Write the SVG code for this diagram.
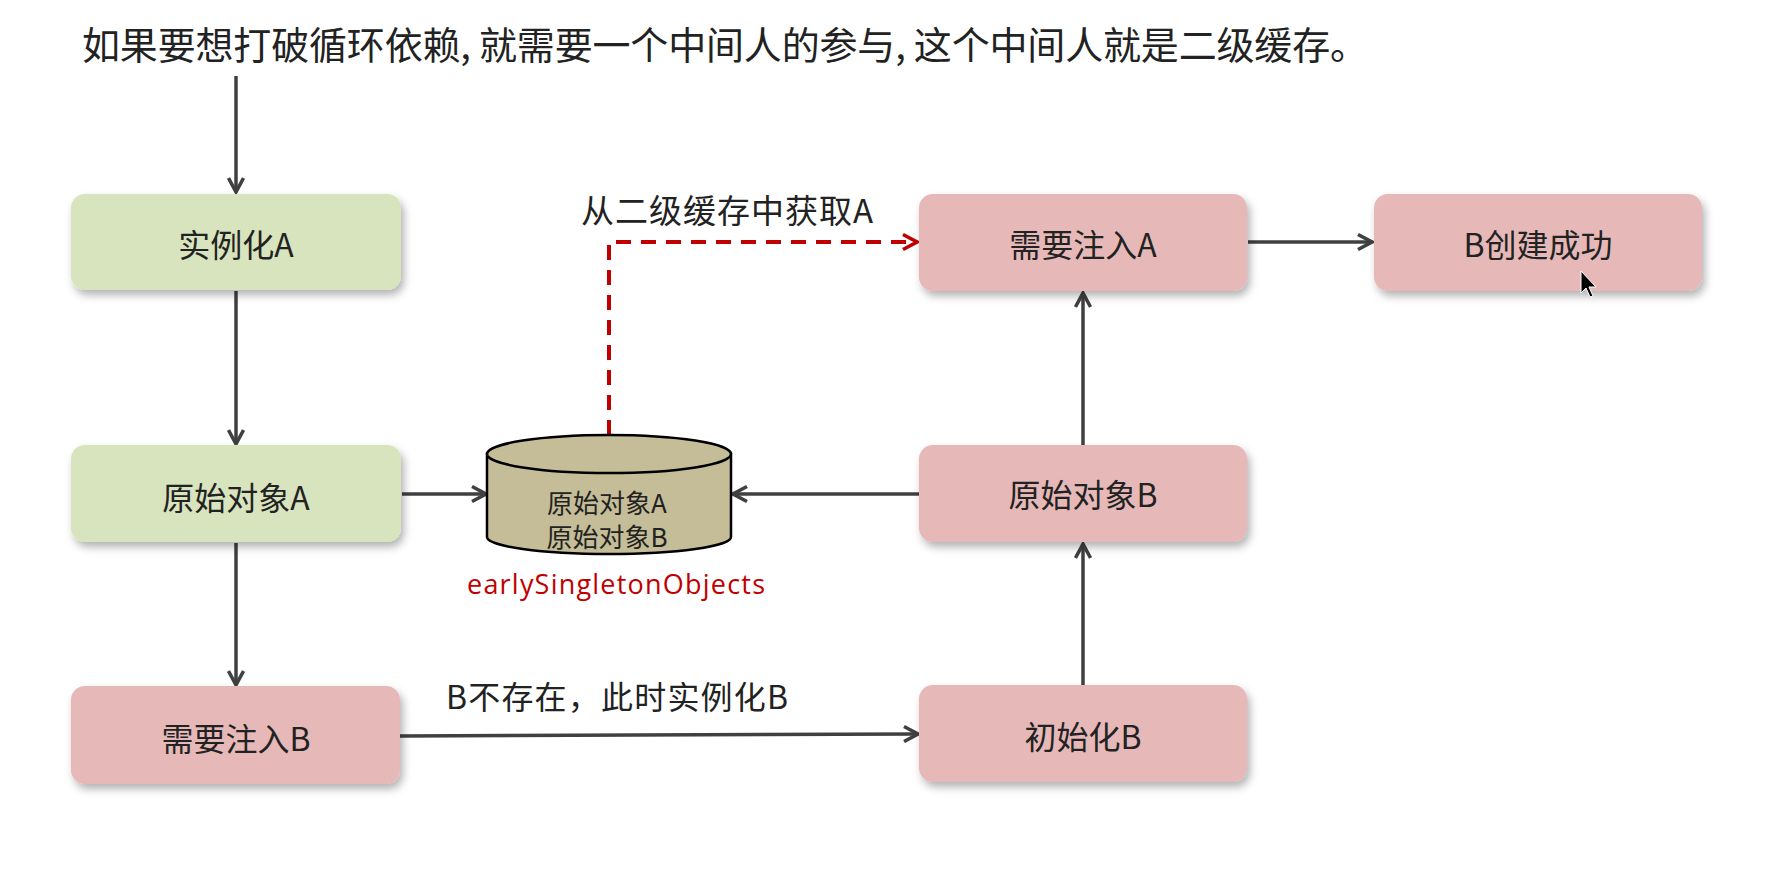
<svg xmlns="http://www.w3.org/2000/svg" width="1788" height="894" viewBox="0 0 1788 894">
<style>
.t{font-family:"Noto Sans CJK SC","Liberation Sans",sans-serif;fill:#222;text-anchor:middle;dominant-baseline:central}
.n{font-size:32px}
.g{fill:#d7e4bd}
.p{fill:#e6b9b8}
.c{stroke:#404040;stroke-width:3.5;fill:none}
.d{stroke:#c00000;stroke-width:4;fill:none;stroke-dasharray:15 10}
</style>
<defs>
<filter id="sh" x="-10%" y="-20%" width="125%" height="150%">
<feDropShadow dx="3" dy="5" stdDeviation="4" flood-color="#000" flood-opacity="0.3"/>
</filter>
<marker id="ar" viewBox="0 0 18 18" refX="16" refY="9" markerWidth="18" markerHeight="18" markerUnits="userSpaceOnUse" orient="auto">
<path d="M2,1.5 L16,9 L2,16.5" fill="none" stroke="#404040" stroke-width="3.5"/>
</marker>
<marker id="ard" viewBox="0 0 18 18" refX="16" refY="9" markerWidth="18" markerHeight="18" markerUnits="userSpaceOnUse" orient="auto">
<path d="M2,1.5 L16,9 L2,16.5" fill="none" stroke="#c00000" stroke-width="3.5"/>
</marker>
</defs>
<rect width="1788" height="894" fill="#fff"/>
<text id="title" class="t" x="82" y="42" font-size="38" style="text-anchor:start" textLength="1286">如果要想打破循环依赖, 就需要一个中间人的参与, 这个中间人就是二级缓存。</text>

<g id="connectors">
<line class="c" x1="236" y1="76" x2="236" y2="192" marker-end="url(#ar)"/>
<line class="c" x1="236" y1="291" x2="236" y2="444" marker-end="url(#ar)"/>
<line class="c" x1="236" y1="543" x2="236" y2="685" marker-end="url(#ar)"/>
<line class="c" x1="402" y1="494" x2="486" y2="494" marker-end="url(#ar)"/>
<line class="c" x1="919" y1="494" x2="733" y2="494" marker-end="url(#ar)"/>
<path class="c" d="M400,736 L918,734" marker-end="url(#ar)"/>
<line class="c" x1="1083" y1="685" x2="1083" y2="544" marker-end="url(#ar)"/>
<line class="c" x1="1083" y1="445" x2="1083" y2="293" marker-end="url(#ar)"/>
<line class="c" x1="1248" y1="242" x2="1372" y2="242" marker-end="url(#ar)"/>
<path class="d" d="M609,435 L609,242 L917,242" marker-end="url(#ard)"/>
<text class="t" x="727" y="209" font-size="33" textLength="292">从二级缓存中获取A</text>
<text class="t" x="617" y="695" font-size="32" textLength="342">B不存在，此时实例化B</text>
</g>

<g id="n1"><rect class="g" x="71" y="194" width="330" height="96" rx="14" filter="url(#sh)"/><text class="t n" x="236" y="243">实例化A</text></g>
<g id="n2"><rect class="g" x="71" y="445" width="330" height="97" rx="14" filter="url(#sh)"/><text class="t n" x="236" y="496">原始对象A</text></g>
<g id="n3"><rect class="p" x="71" y="686" width="329" height="98" rx="14" filter="url(#sh)"/><text class="t n" x="236" y="737">需要注入B</text></g>
<g id="n4"><rect class="p" x="919" y="685" width="328" height="97" rx="14" filter="url(#sh)"/><text class="t n" x="1083" y="735">初始化B</text></g>
<g id="n5"><rect class="p" x="919" y="445" width="328" height="97" rx="14" filter="url(#sh)"/><text class="t n" x="1083" y="493">原始对象B</text></g>
<g id="n6"><rect class="p" x="919" y="194" width="328" height="97" rx="14" filter="url(#sh)"/><text class="t n" x="1083" y="243">需要注入A</text></g>
<g id="n7"><rect class="p" x="1374" y="194" width="328" height="97" rx="14" filter="url(#sh)"/><text class="t n" x="1538" y="243">B创建成功</text></g>

<g id="cache">
<path d="M487,454 L487,537 A122,17 0 0 0 731,537 L731,454 Z" fill="#c4bd97" stroke="#000" stroke-width="2.5"/>
<ellipse cx="609" cy="454" rx="122" ry="19" fill="#c4bd97" stroke="#000" stroke-width="2.5"/>
<text class="t" x="607" y="501" font-size="26">原始对象A</text>
<text class="t" x="607" y="535" font-size="26">原始对象B</text>
<text x="616" y="583" font-family="'Open Sans','Noto Sans',sans-serif" font-size="27" fill="#c00000" text-anchor="middle" dominant-baseline="central" textLength="298">earlySingletonObjects</text>
</g>

<path id="cursor" d="M1581,271 L1581,293 L1586,288 L1590,297 L1593,296 L1589,287 L1596,287 Z" fill="#000" stroke="#fff" stroke-width="1"/>
</svg>
